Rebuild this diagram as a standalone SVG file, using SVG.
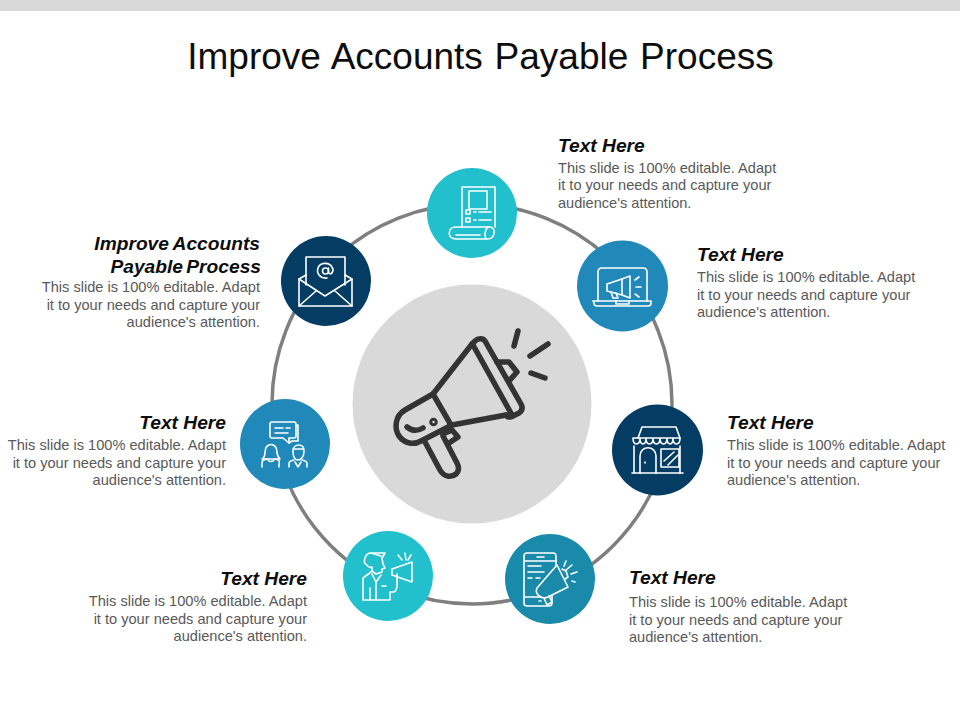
<svg xmlns="http://www.w3.org/2000/svg" width="960" height="720" viewBox="0 0 960 720">
<style>
text{font-family:"Liberation Sans",Arial,sans-serif}
.title{font-size:37px;fill:#0d0d0d;text-anchor:middle}
.h{font-size:19.200px;font-weight:bold;font-style:italic;fill:#0d0d0d}
.b{font-size:14.600px;fill:#595959}
.e{text-anchor:end}
.ic{fill:none;stroke:#fff;stroke-width:1.600;stroke-linejoin:round;stroke-linecap:round}
.mega{fill:none;stroke:#333;stroke-width:5.500;stroke-linejoin:round;stroke-linecap:round}
</style>
<rect width="960" height="11" fill="#d9d9d9"/>
<text class="title" x="480.500" y="69" word-spacing="1.500">Improve Accounts Payable Process</text>
<g id="connectors"><circle cx="472" cy="404" r="200" fill="none" stroke="#7f7f7f" stroke-width="3.500"/></g>
<g id="center">
<circle cx="472" cy="404" r="119.500" fill="#d9d9d9"/>
<g class="mega">
<path d="M472 344L433 394L405 410C395 416 394 428 399 436C405 444 414 445 421 441L452 425L506 415"/>
<path d="M433 394L451 425"/>
<path d="M473 345L512 415"/>
<path d="M472 344L475 341C478 338 483 338 485 341L521 404C523 408 522 411 519 413L513 416C510 418 507 417 506 415"/>
<path d="M497 362L509 362L517 372L510 380"/>
<path d="M407 427C412 431 418 431 423 428"/>
<path d="M425 442L440 470C444 477 451 478 456 474C459 471 459 467 457 463L443 436"/>
<path d="M443 434L452 430L458 437L449 443"/>
<path d="M518 331L514 346M548 344L530 356M531 373L545 378"/>
<circle cx="433.500" cy="422" r="1.500"/>
</g>
</g>
<g id="node-top">
<circle cx="472" cy="213" r="45" fill="#22c0cd"/>
<g class="ic">
<path d="M462 227V187H495V227"/>
<rect x="469" y="191" width="18" height="18"/>
<rect x="466" y="210" width="4" height="4"/><rect x="466" y="218" width="4" height="4"/>
<path d="M474 212H476M479 212H491M474 220H476M479 220H491"/>
<path d="M490 227H456C447 227 447 239 456 239H487C496 239 496 227 490 227C484 227 484 239 487 239"/>
<path d="M456 235H480"/>
</g>
<text class="h" x="558" y="152">Text Here</text>
<text class="b" x="558" y="173">This slide is 100% editable. Adapt</text>
<text class="b" x="558" y="190">it to your needs and capture your</text>
<text class="b" x="558" y="208">audience's attention.</text>
</g>
<g id="node-upper-right">
<circle cx="622.500" cy="286" r="45.500" fill="#2089b9"/>
<g class="ic">
<path d="M598 301V272Q598 268 602 268H643Q647 268 647 272V301"/>
<path d="M593 301H651V303Q651 306 648 306H597Q594 306 594 303Z"/>
<path d="M616 301V304H629V301"/>
<path d="M607 284L622 279L630 276V298L622 295L607 291Z"/>
<path d="M622 279V295M611 292L613 298H618L616 293"/>
<path d="M635 280L639 277M636 287H641M635 294L639 297"/>
</g>
<text class="h" x="697" y="261">Text Here</text>
<text class="b" x="697" y="282">This slide is 100% editable. Adapt</text>
<text class="b" x="697" y="300">it to your needs and capture your</text>
<text class="b" x="697" y="317">audience's attention.</text>
</g>
<g id="node-right">
<circle cx="657.500" cy="450" r="45.500" fill="#043c63"/>
<g class="ic">
<path d="M638 438L642 427H676L680 438"/>
<path d="M632 473H683"/>
<path d="M633 438C633 446 640 446 640 438C640 446 646 446 646 438C646 446 653 446 653 438C653 446 660 446 660 438C660 446 667 446 667 438C667 446 673 446 673 438C673 446 680 446 680 438Z"/>
<path d="M634 446V473M680 446V473"/>
<path d="M640 473V456C640 445 656 445 656 456V473"/>
<path d="M661 449H679V467H661Z"/>
<path d="M664 461L674 452M668 465L678 455M645 462V463"/>
</g>
<text class="h" x="727" y="429">Text Here</text>
<text class="b" x="727" y="450">This slide is 100% editable. Adapt</text>
<text class="b" x="727" y="468">it to your needs and capture your</text>
<text class="b" x="727" y="485">audience's attention.</text>
</g>
<g id="node-lower-right">
<circle cx="550" cy="579" r="45" fill="#1a8aab"/>
<g class="ic">
<path d="M552 596V603Q552 606 549 606H527Q524 606 524 603V556Q524 553 527 553H553Q556 553 556 556V565"/>
<path d="M524 561H556M524 597H541M537 557H544"/>
<path d="M528 566H541M528 572H544M528 578H532M536 578H540M539 601H541"/>
<path d="M537 588L557 565L568 587L548 597C542 600 534 594 537 588Z"/>
<path d="M544 598L547 605L552 602L549 596M562 569L566 571L568 577L565 579"/>
<path d="M566 570L572 565M571 574L577 572M572 581L575 582M564 566L566 561"/>
</g>
<text class="h" x="629" y="584">Text Here</text>
<text class="b" x="629" y="607">This slide is 100% editable. Adapt</text>
<text class="b" x="629" y="625">it to your needs and capture your</text>
<text class="b" x="629" y="642">audience's attention.</text>
</g>
<g id="node-lower-left">
<circle cx="388" cy="576" r="45" fill="#22c0cd"/>
<g class="ic">
<path d="M367 565C362 563 365 553 371 553H385L382 558L383 564L385 568L382 569V572L376 574L372 571V567C370 568 368 567 367 565Z"/>
<path d="M371 553L381 556"/>
<path d="M371 572L363 578V600H390V592H394C398 590 397 584 397 574"/>
<path d="M370 588V600M372 574L376 582L381 575M376 582V600M382 586H386"/>
<path d="M392 569L412 562V582L392 575Z"/>
<path d="M397 577V582M398 555L402 560M405 553L406 560M411 555L408 560"/>
</g>
<text class="h e" x="307" y="585">Text Here</text>
<text class="b e" x="307" y="606">This slide is 100% editable. Adapt</text>
<text class="b e" x="307" y="624">it to your needs and capture your</text>
<text class="b e" x="307" y="641">audience's attention.</text>
</g>
<g id="node-left">
<circle cx="285" cy="444" r="45" fill="#2089b9"/>
<g class="ic">
<path d="M272 422H294Q296 422 296 424V436Q296 438 294 438H289V443L283 438H272Q270 438 270 436V424Q270 422 272 422Z"/>
<path d="M296 425H298V441H292L289 443"/>
<path d="M275 428H283M286 428H290M275 433H288"/>
<path d="M265 452C265 442 277 442 277 452C277 456 279 458 280 459H262C264 458 265 456 265 452Z"/>
<path d="M267 459C261 460 262 462 262 467M275 459C281 460 279 462 279 467M268 460C269 462 273 462 274 460"/>
<path d="M293 451C293 443 305 443 304 451C304 457 301 460 298 460C295 460 293 457 293 451Z"/>
<path d="M294 460C288 461 289 463 289 467M302 460C308 461 307 463 307 467M295 462L298 467L301 462M293 449L303 449"/>
</g>
<text class="h e" x="226" y="429">Text Here</text>
<text class="b e" x="226" y="450">This slide is 100% editable. Adapt</text>
<text class="b e" x="226" y="468">it to your needs and capture your</text>
<text class="b e" x="226" y="485">audience's attention.</text>
</g>
<g id="node-upper-left">
<circle cx="326" cy="281" r="45" fill="#043c63"/>
<g class="ic">
<path d="M299 279V306H352V279L345 275"/>
<path d="M306 275L299 279L325 296L352 279"/>
<path d="M306 285V257H345V285"/>
<path d="M299 306L316 291M352 306L335 291"/>
<circle cx="325.500" cy="271" r="3"/>
<path d="M328.500 268V272Q329 275 332 273Q334 270 332 267C329 262 320 262 318 268C316 274 321 279 327 278"/>
</g>
<text class="h e" x="260" y="250" word-spacing="-1">Improve Accounts</text>
<text class="h e" x="261" y="273" word-spacing="-2">Payable Process</text>
<text class="b e" x="260" y="292">This slide is 100% editable. Adapt</text>
<text class="b e" x="260" y="310">it to your needs and capture your</text>
<text class="b e" x="260" y="327">audience's attention.</text>
</g>
</svg>
